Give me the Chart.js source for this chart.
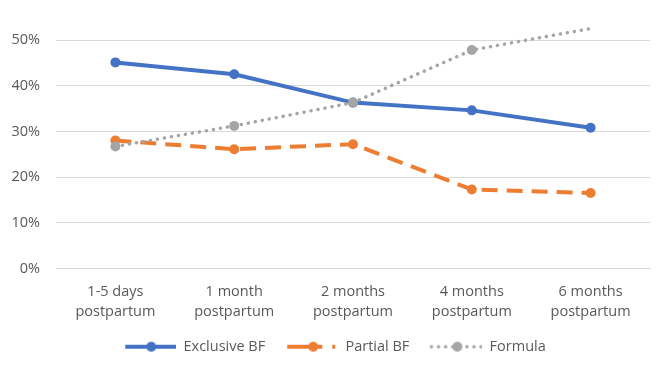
<!DOCTYPE html>
<html>
<head>
<meta charset="utf-8">
<script src="https://cdn.jsdelivr.net/npm/chart.js@4"></script>
<style>
  html, body { margin: 0; padding: 0; background: #fff; }
  #wrap { width: 669px; height: 374px; }
</style>
</head>
<body>
<div id="wrap"><canvas id="myChart"></canvas></div>
<script>
const categories = [["1-5 days", "postpartum"], ["1 month", "postpartum"], ["2 months", "postpartum"], ["4 months", "postpartum"], ["6 months", "postpartum"]];
const exclusiveBF = [45.1, 42.5, 36.3, 34.6, 30.8];
const partialBF = [28.0, 26.1, 27.2, 17.3, 16.5];
const formula = [26.7, 31.2, 36.3, 47.8, 52.5];
const yTicks = [0, 10, 20, 30, 40, 50];

const blue = "#4472C4", orange = "#ED7D31", gray = "#A5A5A5";
const fontFam = "Open Sans";

// legend swatches like the excel ones: line + dot, with blank space on the left as item gap
function swatch(color, dash, width, cap) {
  const c = document.createElement("canvas");
  c.width = 60; c.height = 12;
  const g = c.getContext("2d");
  g.strokeStyle = color;
  g.lineWidth = width;
  g.lineCap = cap;
  g.setLineDash(dash);
  g.beginPath();
  g.moveTo(9, 6);
  g.lineTo(60, 6);
  g.stroke();
  g.fillStyle = color;
  g.beginPath();
  g.arc(35, 6, 5, 0, Math.PI * 2);
  g.fill();
  return c;
}
const swatches = [
  swatch(blue, [], 4, "butt"),
  swatch(orange, [35, 10, 3, 100], 4, "butt"),
  swatch(gray, [0.1, 7], 3.5, "round")
];

const ctx = document.getElementById("myChart").getContext("2d");
const myChart = new Chart(ctx, {
  type: "line",
  data: {
    labels: categories,
    datasets: [
      {
        label: "Exclusive BF",
        data: exclusiveBF,
        borderColor: blue,
        backgroundColor: blue,
        borderWidth: 4,
        pointRadius: 5,
        pointBorderWidth: 0,
        order: 2,
        clip: false,
      },
      {
        label: "Partial BF",
        data: partialBF,
        borderColor: orange,
        backgroundColor: orange,
        borderWidth: 4,
        borderDash: [16, 9],
        pointRadius: 5,
        pointBorderWidth: 0,
        order: 1,
        clip: false,
      },
      {
        label: "Formula",
        data: formula,
        borderColor: gray,
        backgroundColor: gray,
        borderWidth: 3.5,
        borderDash: [0.1, 7],
        borderCapStyle: "round",
        pointRadius: 5,
        pointBorderWidth: 0,
        order: 0,
        clip: false,
      },
    ],
  },
  options: {
    responsive: true,
    maintainAspectRatio: false,
    animation: false,
    layout: { padding: { top: 40, right: 19, left: 12, bottom: 10 } },
    scales: {
      x: {
        offset: true,
        grid: { display: false },
        border: { color: "#d9d9d9" },
        ticks: {
          color: "#595959",
          font: { family: fontFam, size: 14.5, lineHeight: 1.38 },
          padding: 5,
          maxRotation: 0,
        },
      },
      y: {
        min: 0,
        max: 50,
        afterBuildTicks: (axis) => { axis.ticks = yTicks.map(v => ({ value: v })); },
        afterFit: (axis) => { axis.width = 44; },
        grid: { color: "#d9d9d9", drawTicks: false },
        border: { display: false },
        ticks: {
          color: "#595959",
          font: { family: fontFam, size: 14.5 },
          padding: 16,
          callback: (v) => v + "%",
        },
      },
    },
    plugins: {
      tooltip: { enabled: false },
      legend: {
        position: "bottom",
        labels: {
          color: "#595959",
          font: { family: fontFam, size: 14.5 },
          usePointStyle: true,
          pointStyleWidth: 60,
          padding: 13,
          sort: (a, b) => a.datasetIndex - b.datasetIndex,
          generateLabels: (chart) => chart.data.datasets.map((ds, i) => ({
            text: ds.label,
            fontColor: "#595959",
            pointStyle: swatches[i],
            datasetIndex: i,
            lineWidth: 0,
            strokeStyle: "transparent",
            fillStyle: "transparent",
          })),
        },
      },
    },
  },
});
</script>
</body>
</html>
